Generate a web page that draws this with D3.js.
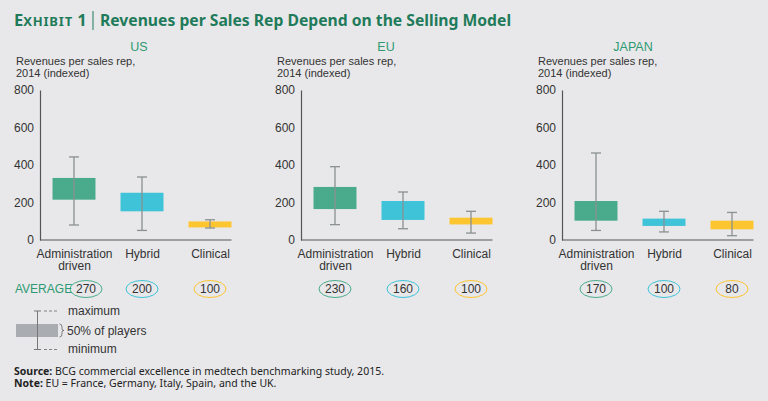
<!DOCTYPE html>
<html>
<head>
<meta charset="utf-8">
<script src="https://cdn.jsdelivr.net/npm/d3@7"></script>
<style>
  body { margin: 0; background: #e8e8ea; }
  svg { display: block; font-family: "Liberation Sans", Arial, sans-serif; }
  .note { font-family: "Noto Sans", sans-serif; }
</style>
</head>
<body>
<svg id="chart" width="768" height="401"></svg>
<script>
"use strict";

// Chart data
const regions = ["US", "EU", "JAPAN"];
const models = ["Administration driven", "Hybrid", "Clinical"];
const yTicks = [0, 200, 400, 600, 800];

// One row per region, one value per model
const boxLow = [[215, 153, 67], [165, 107, 83], [103, 75, 57]];
const boxHigh = [[331, 252, 99], [283, 208, 119], [208, 114, 103]];
const whiskerMin = [[80, 51, 64], [82, 60, 37], [51, 43, 23]];
const whiskerMax = [[443, 336, 108], [391, 256, 153], [464, 153, 147]];
const averages = [[270, 200, 100], [230, 160, 100], [170, 100, 80]];

const modelColors = ["#4aab8c", "#3ec3d8", "#fdc530"];
const green = "#1f7b5a";
const lightGreen = "#2e9a72";
const textColor = "#333";
const whiskerColor = "#8b9090";

const svg = d3.select("#chart");

// Title
const title = svg.append("text")
  .attr("class", "note")
  .attr("x", 14)
  .attr("y", 25.5)
  .attr("fill", green)
  .attr("font-weight", "bold");
title.append("tspan").attr("font-size", 16.5).text("E");
title.append("tspan").attr("font-size", 13).attr("letter-spacing", 0.8).text("XHIBIT");
title.append("tspan").attr("font-size", 16.5).text(" 1");
svg.append("line")
  .attr("x1", 93).attr("x2", 93)
  .attr("y1", 11).attr("y2", 30)
  .attr("stroke", green)
  .attr("stroke-width", 1);
svg.append("text")
  .attr("class", "note")
  .attr("x", 100)
  .attr("y", 25.5)
  .attr("fill", green)
  .attr("font-weight", "bold")
  .attr("font-size", 15.7)
  .text("Revenues per Sales Rep Depend on the Selling Model");

// Panels
const panelLeft = [40, 301, 562];
const titleDx = [99, 85, 71];
const plotTop = 90;
const plotBottom = 240;
const boxWidth = 43;

const yScale = d3.scaleLinear()
  .domain([0, 800])
  .range([plotBottom, plotTop]);

const xScale = d3.scalePoint()
  .domain(models)
  .range([34, 170]);

regions.forEach((region, r) => {
  const g = svg.append("g")
    .attr("transform", `translate(${panelLeft[r]}, 0)`);

  g.append("text")
    .attr("x", titleDx[r])
    .attr("y", 51)
    .attr("text-anchor", "middle")
    .attr("fill", lightGreen)
    .attr("font-size", 12.5)
    .text(region);

  const yTitle = g.append("text")
    .attr("x", -24)
    .attr("y", 65)
    .attr("fill", textColor)
    .attr("font-size", 11);
  yTitle.append("tspan").text("Revenues per sales rep,");
  yTitle.append("tspan").attr("x", -24).attr("dy", 11.5).text("2014 (indexed)");

  // Y axis
  g.append("g")
    .call(d3.axisLeft(yScale).tickValues(yTicks).tickSize(0).tickPadding(6))
    .call(a => a.select(".domain").attr("stroke", "#555").attr("stroke-width", 1.2))
    .call(a => a.selectAll("text")
      .attr("fill", textColor)
      .attr("font-size", 12)
      .attr("font-family", "'Liberation Sans', Arial, sans-serif"));

  // X axis baseline
  g.append("line")
    .attr("x1", 0)
    .attr("x2", xScale(models[models.length - 1]) + boxWidth / 2)
    .attr("y1", yScale(0))
    .attr("y2", yScale(0))
    .attr("stroke", "#555")
    .attr("stroke-width", 1.2);

  // X labels
  g.append("g")
    .attr("transform", `translate(0, ${plotBottom})`)
    .call(d3.axisBottom(xScale).tickSize(0).tickPadding(0))
    .call(a => a.select(".domain").remove())
    .call(a => a.selectAll("text")
      .attr("fill", textColor)
      .attr("font-size", 12)
      .attr("font-family", "'Liberation Sans', Arial, sans-serif")
      .attr("y", 0)
      .attr("dy", null)
      .each(function(d) {
        const words = d.split(" ");
        const t = d3.select(this).text(null);
        words.forEach((w, i) => {
          t.append("tspan")
            .attr("x", 0)
            .attr("y", 17.5 + i * 12.7)
            .text(w);
        });
      }));

  // Boxes
  g.selectAll("rect.box")
    .data(models)
    .join("rect")
      .attr("class", "box")
      .attr("x", d => xScale(d) - boxWidth / 2)
      .attr("width", boxWidth)
      .attr("y", (d, i) => yScale(boxHigh[r][i]))
      .attr("height", (d, i) => yScale(boxLow[r][i]) - yScale(boxHigh[r][i]))
      .attr("fill", (d, i) => modelColors[i]);

  // Whiskers
  const whisker = g.selectAll("g.whisker")
    .data(models)
    .join("g")
      .attr("class", "whisker")
      .attr("stroke", whiskerColor)
      .attr("stroke-width", 1.3);

  whisker.append("line")
    .attr("x1", d => xScale(d))
    .attr("x2", d => xScale(d))
    .attr("y1", (d, i) => yScale(whiskerMax[r][i]))
    .attr("y2", (d, i) => yScale(whiskerMin[r][i]));

  whisker.append("line")
    .attr("x1", d => xScale(d) - 5)
    .attr("x2", d => xScale(d) + 5)
    .attr("y1", (d, i) => yScale(whiskerMax[r][i]))
    .attr("y2", (d, i) => yScale(whiskerMax[r][i]));

  whisker.append("line")
    .attr("x1", d => xScale(d) - 5)
    .attr("x2", d => xScale(d) + 5)
    .attr("y1", (d, i) => yScale(whiskerMin[r][i]))
    .attr("y2", (d, i) => yScale(whiskerMin[r][i]));

  // Averages
  const avg = g.selectAll("g.avg")
    .data(models)
    .join("g")
      .attr("class", "avg")
      .attr("transform", (d, i) => {
        const dx = (r === 0 && i === 0) ? 12 : 0;
        return `translate(${xScale(d) + dx}, 289)`;
      });

  avg.append("ellipse")
    .attr("rx", 16)
    .attr("ry", 8.5)
    .attr("fill", "none")
    .attr("stroke", (d, i) => modelColors[i])
    .attr("stroke-width", 1);

  avg.append("text")
    .attr("text-anchor", "middle")
    .attr("dy", "0.36em")
    .attr("fill", textColor)
    .attr("font-size", 12)
    .text((d, i) => averages[r][i]);
});

svg.append("text")
  .attr("x", 15)
  .attr("y", 293)
  .attr("fill", lightGreen)
  .attr("font-size", 12)
  .text("AVERAGE");

// Legend
const legend = svg.append("g");
legend.append("rect")
  .attr("x", 16).attr("y", 324)
  .attr("width", 42).attr("height", 13)
  .attr("fill", "#a9adb1");
legend.append("line")
  .attr("x1", 37.5).attr("x2", 37.5)
  .attr("y1", 311).attr("y2", 349.5)
  .attr("stroke", "#777").attr("stroke-width", 1);
[311, 349.5].forEach(y => {
  legend.append("line")
    .attr("x1", 34).attr("x2", 41)
    .attr("y1", y).attr("y2", y)
    .attr("stroke", "#777").attr("stroke-width", 1);
  legend.append("line")
    .attr("x1", 44).attr("x2", 59)
    .attr("y1", y).attr("y2", y)
    .attr("stroke", "#777").attr("stroke-width", 0.9)
    .attr("stroke-dasharray", "3,2");
});
legend.append("path")
  .attr("d", "M59.5,324 Q62,324 62,327 L62,329 Q62,330.5 64,330.5 Q62,330.5 62,332 L62,334 Q62,337 59.5,337")
  .attr("fill", "none")
  .attr("stroke", "#666")
  .attr("stroke-width", 0.8);
[["maximum", 315], ["50% of players", 334.5], ["minimum", 352.5]].forEach(([t, y]) => {
  legend.append("text")
    .attr("x", t.startsWith("50") ? 67 : 68)
    .attr("y", y)
    .attr("fill", textColor)
    .attr("font-size", 12)
    .text(t);
});

// Source and note
const source = svg.append("text")
  .attr("class", "note")
  .attr("x", 14).attr("y", 374.5)
  .attr("font-size", 10.5)
  .attr("fill", "#222");
source.append("tspan").attr("font-weight", "bold").text("Source:");
source.append("tspan").text(" BCG commercial excellence in medtech benchmarking study, 2015.");

const note = svg.append("text")
  .attr("class", "note")
  .attr("x", 14).attr("y", 387)
  .attr("font-size", 10.5)
  .attr("fill", "#222");
note.append("tspan").attr("font-weight", "bold").text("Note:");
note.append("tspan").text(" EU = France, Germany, Italy, Spain, and the UK.");
</script>
</body>
</html>
